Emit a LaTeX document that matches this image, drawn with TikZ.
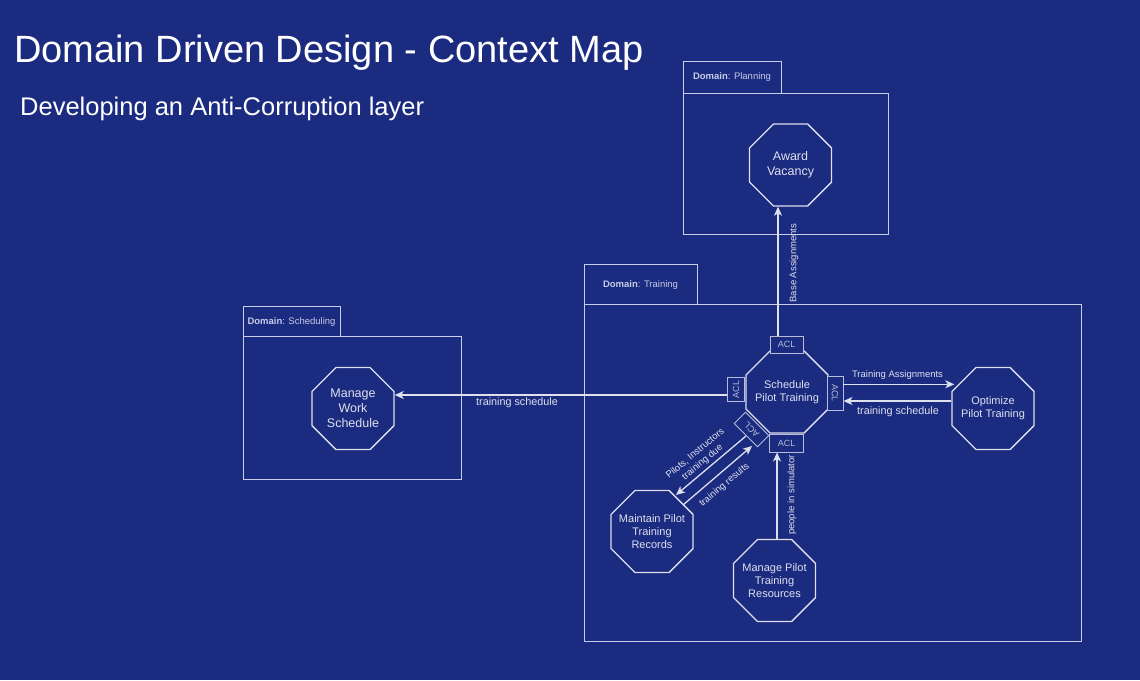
\documentclass[tikz,border=0pt]{standalone}
\usepackage{fontspec}
\setmainfont{Liberation Sans}
\usetikzlibrary{shapes.geometric,arrows.meta,calc}
\definecolor{bg}{RGB}{27,43,128}
\definecolor{ln}{RGB}{222,224,238}
\definecolor{fr}{RGB}{200,204,230}
\definecolor{acltext}{RGB}{182,188,218}
\begin{document}
\begin{tikzpicture}[x=1pt,y=-1pt,
  oct/.style={regular polygon, regular polygon sides=8, minimum size=88.8pt, inner sep=-12pt,
    draw=ln, line width=1.4pt, align=center, text=ln},
  octbig/.style={oct, font=\fontsize{12.5}{15}\selectfont},
  octsm/.style={oct, font=\fontsize{11}{13.2}\selectfont},
  aclbox/.style={draw=acltext, line width=0.9pt, fill=bg, inner sep=0pt, text=acltext,
    font=\fontsize{9}{10}\selectfont},
  frame/.style={draw=fr, line width=0.9pt},
  tabtext/.style={text=fr, font=\fontsize{9.5}{11}\selectfont, inner sep=0pt},
  lbl/.style={text=ln, inner sep=0pt, font=\fontsize{9.5}{11.3}\selectfont, align=center},
  lblb/.style={lbl, font=\fontsize{10.8}{13}\selectfont},
  arr/.style={draw=ln, line width=1.3pt, -{Stealth[length=9pt,width=8pt,inset=2.5pt]}}
]
\fill[bg] (0,0) rectangle (1140,680);
\useasboundingbox (0,0) rectangle (1140,680);

% titles
\node[anchor=base west, inner sep=0pt, text=white, font=\fontsize{38}{44}\selectfont] (title) at (14,62) {Domain Driven Design - Context Map};
\node[anchor=base west, inner sep=0pt, text=white, font=\fontsize{25.5}{30}\selectfont] (subtitle) at (20,115) {Developing an Anti-Corruption layer};

% domain frames
\draw[frame] (683,61) rectangle (781,93);
\draw[frame] (683,93) rectangle (888,234);
\node[tabtext] (tabP) at (732,77) {\textbf{Domain}: Planning};

\draw[frame] (584,264) rectangle (697,304);
\draw[frame] (584,304) rectangle (1081,641);
\node[tabtext] (tabT) at (640.5,285) {\textbf{Domain}: Training};

\draw[frame] (243,306) rectangle (340,336);
\draw[frame] (243,336) rectangle (461,479);
\node[tabtext] (tabS) at (291.5,322) {\textbf{Domain}: Scheduling};

% octagons
\node[octbig] (award) at (790.5,165) {Award\\Vacancy};
\node[octbig] (mws) at (353,408.5) {Manage\\Work\\Schedule};
\node[octsm] (sched) at (787,392) {Schedule\\Pilot Training};
\node[octsm] (opt) at (993,408.5) {Optimize\\Pilot Training};
\node[octsm] (mptr) at (652,531.5) {Maintain Pilot\\Training\\Records};
\node[octsm] (mptres) at (774.5,580.5) {Manage Pilot\\Training\\Resources};

% ACL boxes
\node[aclbox, minimum width=33pt, minimum height=17pt] (aclT) at (786.5,344.5) {ACL};
\node[aclbox, minimum width=24pt, minimum height=17pt, rotate=90] (aclL) at (736,389.5) {ACL};
\node[aclbox, minimum width=34pt, minimum height=16pt, rotate=-90] (aclR) at (835,393) {ACL};
\node[aclbox, minimum width=34pt, minimum height=18pt] (aclB) at (786.5,443) {ACL};
\node[aclbox, minimum width=33pt, minimum height=16pt, rotate=135] (aclD) at (751.5,429.5) {ACL};

% connector end points (rotated boxes: .north is the outer side)
\coordinate (baseS) at ($(aclT.north)+(-8.5,0)$);
\coordinate (tsL) at ($(aclL.north)+(0,5.5)$);
\coordinate (taS) at ($(aclR.north)+(0,-8.7)$);
\coordinate (taE) at ($(taS -| opt.west)+(3,0)$);
\coordinate (tsR) at ($(opt.west)+(0,-7.5)$);
\coordinate (psS) at ($(mptres.north)+(2.5,0)$);
\coordinate (pidS) at ($(mptr)+(94,-95.5)$);
\coordinate (pidE) at ($(mptr)+(24,-36.5)$);
\coordinate (trS) at ($(mptr)+(31,-26.5)$);
\coordinate (trE) at ($(mptr)+(100,-85.5)$);

% connectors
\draw[arr] (baseS) -- (baseS |- award.south);
\node[lbl, rotate=90] (lblBase) at (794,263) {Base Assignments};

\draw[arr] (tsL) -- (tsL -| mws.east);
\node[lblb] (lblTS1) at (517,403) {training schedule};

\draw[arr] (taS) -- (taE);
\node[lbl] (lblTA) at (897.5,375.5) {Training Assignments};
\draw[arr] (tsR) -- (tsR -| aclR.north);
\node[lblb] (lblTS2) at (898,412) {training schedule};

\draw[arr] (psS) -- (psS |- aclB.south);
\node[lbl, rotate=90] (lblPS) at (792,495) {people in simulator};

\draw[arr] (pidS) -- (pidE);
\draw[arr] (trS) -- (trE);
\node[lbl, rotate=40] (lblPI) at (699,458) {Pilots, Instructors\\training due};
\node[lbl, rotate=40] (lblTR) at (724.5,485) {training results};
\end{tikzpicture}
\end{document}
